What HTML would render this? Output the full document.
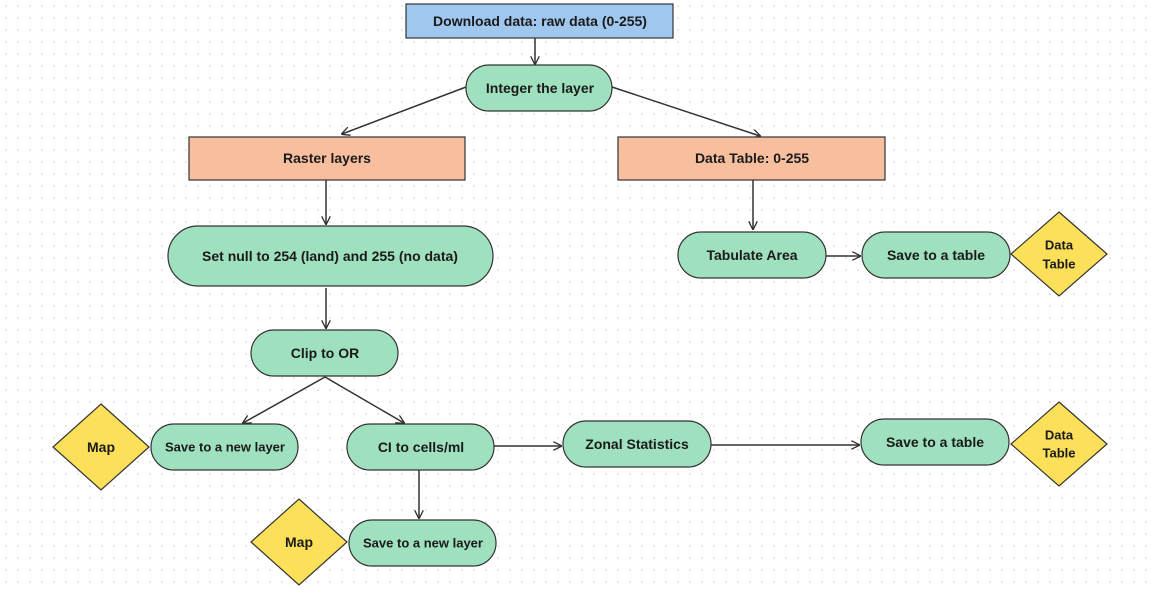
<!DOCTYPE html>
<html><head><style>
html,body{margin:0;padding:0;background:#fff;}
svg{display:block;}
text{font-family:"Liberation Sans",sans-serif;font-weight:bold;font-size:14px;fill:#1a1a1a;text-anchor:middle;dominant-baseline:central;}
</style></head><body>
<svg width="1156" height="592" viewBox="0 0 1156 592" xmlns="http://www.w3.org/2000/svg">
<defs>
<pattern id="dots" width="12" height="12" patternUnits="userSpaceOnUse"><circle cx="6" cy="6" r="0.9" fill="#d8d8d8"/></pattern>
<marker id="ar" viewBox="0 0 10 10" refX="9" refY="5" markerWidth="9" markerHeight="9" orient="auto" markerUnits="userSpaceOnUse"><path d="M0,0 L10,5 L0,10" fill="none" stroke="#333" stroke-width="1.5"/></marker>
</defs>
<rect width="1156" height="592" fill="#fff"/>
<rect width="1156" height="592" fill="url(#dots)"/>
<g stroke="#333" stroke-width="1.5" fill="none" marker-end="url(#ar)">
<line x1="535" y1="38" x2="535" y2="64"/>
<line x1="466" y1="87" x2="342" y2="134"/>
<line x1="612" y1="87" x2="760" y2="136"/>
<line x1="326" y1="180" x2="326" y2="224"/>
<line x1="326" y1="288" x2="326" y2="328"/>
<line x1="325" y1="377" x2="243" y2="423"/>
<line x1="325" y1="377" x2="404" y2="423"/>
<line x1="494" y1="446" x2="561" y2="446"/>
<line x1="711" y1="445" x2="859" y2="445"/>
<line x1="419" y1="470" x2="419" y2="518"/>
<line x1="753" y1="180" x2="753" y2="229"/>
<line x1="826" y1="256" x2="860" y2="256"/>
</g>
<g stroke="#333" stroke-width="1.2">
<rect x="406" y="4" width="267" height="34" fill="#a0c8ef"/>
<rect x="189" y="137" width="276" height="43" fill="#f8bf9f"/>
<rect x="618" y="137" width="267" height="43" fill="#f8bf9f"/>
</g>
<g stroke="#333" stroke-width="1.2" fill="#9fe0be">
<rect x="466" y="65" width="146" height="46" rx="23"/>
<rect x="168" y="226" width="325" height="60" rx="30"/>
<rect x="251" y="330" width="147" height="46" rx="23"/>
<rect x="151" y="424" width="147" height="46" rx="23"/>
<rect x="347" y="424" width="147" height="46" rx="23"/>
<rect x="563" y="421" width="148" height="46" rx="23"/>
<rect x="861" y="419" width="148" height="46" rx="23"/>
<rect x="349" y="520" width="147" height="46" rx="23"/>
<rect x="678" y="232" width="148" height="46" rx="23"/>
<rect x="862" y="232" width="148" height="46" rx="23"/>
</g>
<g stroke="#333" stroke-width="1.2" fill="#fde05a">
<polygon points="101,404 149,447 101,490 53,447"/>
<polygon points="299,499 347,542 299,585 251,542"/>
<polygon points="1059,402 1107,444 1059,486 1011,444"/>
<polygon points="1059,212 1107,254 1059,296 1011,254"/>
</g>
<text x="540" y="21">Download data: raw data (0-255)</text>
<text x="540" y="88">Integer the layer</text>
<text x="327" y="158">Raster layers</text>
<text x="752" y="158">Data Table: 0-255</text>
<text x="330" y="256">Set null to 254 (land) and 255 (no data)</text>
<text x="325" y="353">Clip to OR</text>
<text x="225" y="447" style="font-size:13px">Save to a new layer</text>
<text x="421" y="447">CI to cells/ml</text>
<text x="637" y="444">Zonal Statistics</text>
<text x="935" y="442">Save to a table</text>
<text x="423" y="543" style="font-size:13px">Save to a new layer</text>
<text x="752" y="255">Tabulate Area</text>
<text x="936" y="255">Save to a table</text>
<text x="101" y="447">Map</text>
<text x="299" y="542">Map</text>
<text x="1059" y="435" style="font-size:13px">Data</text>
<text x="1059" y="453" style="font-size:13px">Table</text>
<text x="1059" y="245" style="font-size:13px">Data</text>
<text x="1059" y="264" style="font-size:13px">Table</text>
</svg>
</body></html>
